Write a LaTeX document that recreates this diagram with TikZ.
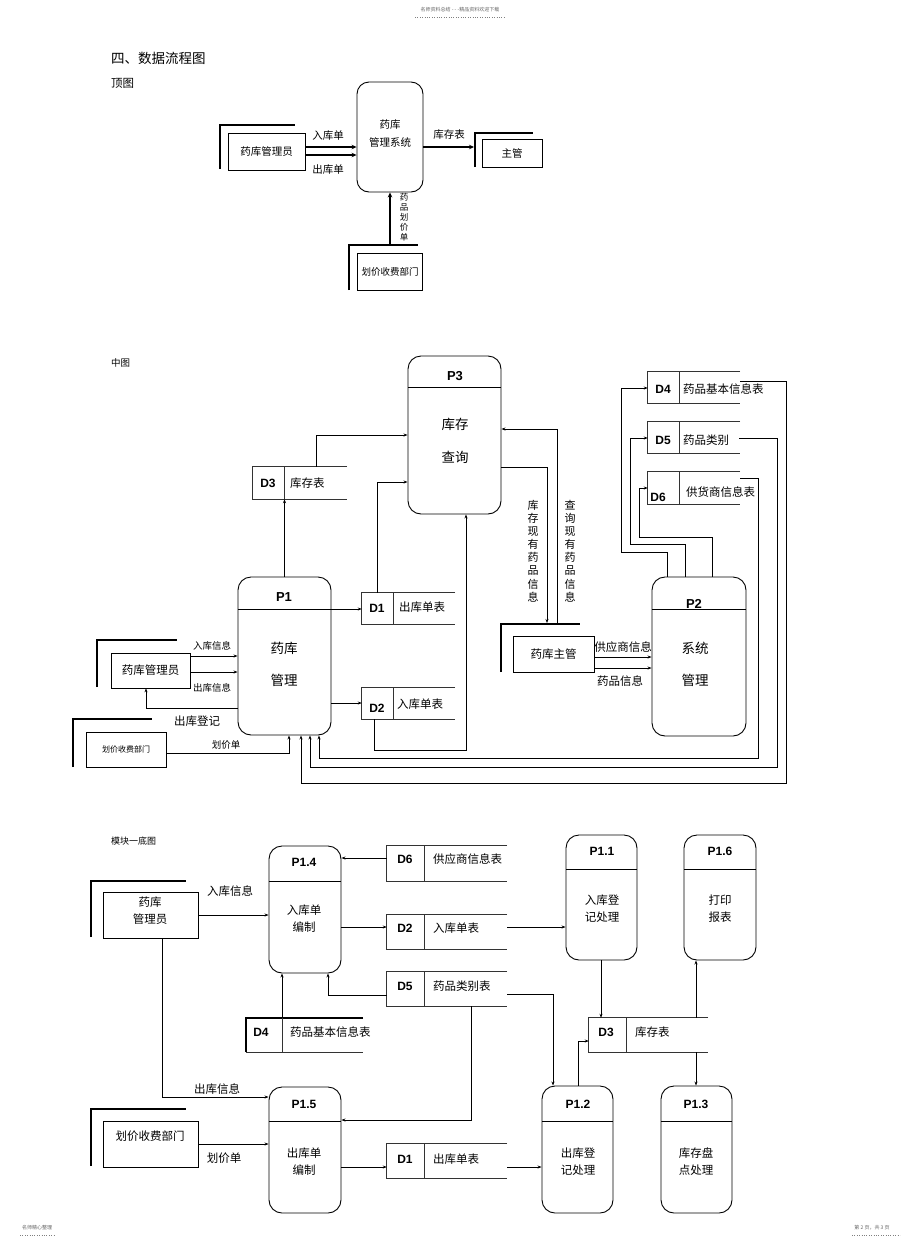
\documentclass[tikz,border=0pt]{standalone}
\usepackage{fontspec}
\setmainfont{Noto Sans CJK SC}
\newfontfamily\lat{Liberation Sans}
\usetikzlibrary{arrows.meta,fit}
\tikzset{
  every node/.style={inner sep=0pt, font=\fontsize{11.5}{17}\selectfont},
  proc/.style={draw, rounded corners=13pt, line width=0.9pt, inner sep=0pt},
  sfit/.style={inner sep=0pt},
  extbox/.style={draw, line width=0.7pt, inner sep=0pt},
  thickl/.style={line width=2.4pt},
  sline/.style={line width=0.7pt, black!80},
  arr/.style={-{Stealth[length=4pt,width=3pt]}, line width=0.7pt},
  tarr/.style={-{Stealth[length=5pt,width=4.5pt]}, line width=2pt},
  plab/.style={font=\lat\bfseries\fontsize{13}{13}\selectfont},
  dlab/.style={font=\lat\bfseries\fontsize{12}{12}\selectfont},
  small/.style={font=\fontsize{9.5}{12}\selectfont},
  tiny/.style={font=\fontsize{5}{6}\selectfont, text=black!60},
}
\begin{document}
\begin{tikzpicture}[x=1pt,y=-1pt]
\useasboundingbox (0,0) rectangle (920,1245);
\fill[white] (0,0) rectangle (920,1245);

% header / footer
\node[tiny] (hdr) at (460,10) {名师资料总结 - - -精品资料欢迎下载};
\draw[black!50, dotted] (415,17) -- (505,17);
\node[tiny] (ftl) at (37,1228) {名师精心整理};
\draw[black!50, dotted] (20,1235) -- (55,1235);
\node[tiny] (ftr) at (872,1228) {第 2 页，共 3 页};
\draw[black!50, dotted] (852,1235) -- (900,1235);

% ================= top =================
\node[anchor=west, font=\fontsize{13.5}{14}\selectfont] (title) at (111,58) {四、数据流程图};
\node[anchor=west, font=\fontsize{11.5}{12}\selectfont] (dingtu) at (111,83) {顶图};

\node[proc, rounded corners=12pt, fit={(357,82)(423,192)}] (sys) {};
\node[align=center, font=\fontsize{10.5}{18}\selectfont] (systxt) at (390,134) {药库\\管理系统};

\node[extbox, fit={(228,133)(305,170)}] (adm0) {};
\draw[thickl] (220,169) -- (220,125) -- (295,125);
\node[font=\fontsize{10.5}{12}\selectfont] at (adm0.center) {药库管理员};
\draw[tarr] (adm0.east |- 0,147) -- (sys.west |- 0,147);
\draw[tarr] (adm0.east |- 0,155) -- (sys.west |- 0,155);
\node[font=\fontsize{10.5}{12}\selectfont] (l1) at (328,136) {入库单};
\node[font=\fontsize{10.5}{12}\selectfont] (l2) at (328,170) {出库单};

\node[extbox, fit={(482,139)(542,167)}] (zg0) {};
\draw[thickl] (475,167) -- (475,133) -- (533,133);
\node[font=\fontsize{10.5}{12}\selectfont] at (zg0.center) {主管};
\coordinate (zgin) at (474,147);
\draw[tarr] (sys.east |- 0,147) -- (zgin);
\node[font=\fontsize{10.5}{12}\selectfont] (l3) at (449,135) {库存表};

\node[extbox, fit={(357,253)(422,290)}] (hj0) {};
\draw[thickl] (349,290) -- (349,245) -- (418,245);
\node[font=\fontsize{9.5}{12}\selectfont] at (390,272) {划价收费部门};
\coordinate (hj0top) at (390,245);
\draw[tarr] (hj0top) -- (sys.south);
\node[align=center, font=\fontsize{8.5}{10}\selectfont] (l4) at (404,217) {药\\品\\划\\价\\单};

% ================= middle =================
\node[anchor=west, small] (zt) at (111,363) {中图};

% P3
\node[proc, fit={(408,356)(501,514)}] (p3) {};
\draw[line width=0.9pt] (408,387) -- (501,387);
\node[plab] at (455,376) {P3};
\node[font=\fontsize{13.5}{14}\selectfont] at (455,424) {库存};
\node[font=\fontsize{13.5}{14}\selectfont] at (455,457) {查询};

% P1
\node[proc, fit={(238,577)(331,735)}] (p1) {};
\draw[line width=0.9pt] (238,609) -- (331,609);
\node[plab] at (284,597) {P1};
\node[font=\fontsize{13.5}{14}\selectfont] at (284,648) {药库};
\node[font=\fontsize{13.5}{14}\selectfont] at (284,680) {管理};

% P2
\node[proc, fit={(652,577)(746,736)}] (p2) {};
\draw[line width=0.9pt] (652,609) -- (746,609);
\node[plab] at (694,604) {P2};
\node[font=\fontsize{13.5}{14}\selectfont] at (695,648) {系统};
\node[font=\fontsize{13.5}{14}\selectfont] at (695,680) {管理};

% D3 mid
\node[sfit, fit={(253,467)(347,499)}] (d3) {};
\draw[sline] (d3.north east) -- (d3.north west) -- (d3.south west) -- (d3.south east);
\draw[sline] (284,467) -- (284,499);
\node[dlab] at (268,483) {D3};
\node[anchor=west] at (290,483) {库存表};

% D1 mid
\node[sfit, fit={(362,593)(455,624)}] (d1) {};
\draw[sline] (d1.north east) -- (d1.north west) -- (d1.south west) -- (d1.south east);
\draw[sline] (393,593) -- (393,624);
\node[dlab] at (377,608) {D1};
\node[anchor=west] at (399,607) {出库单表};

% D2 mid
\node[sfit, fit={(362,688)(455,719)}] (d2) {};
\draw[sline] (d2.north east) -- (d2.north west) -- (d2.south west) -- (d2.south east);
\draw[sline] (393,688) -- (393,719);
\node[dlab] at (377,708) {D2};
\node[anchor=west] at (397,704) {入库单表};

% D4 D5 D6 mid
\node[sfit, fit={(648,372)(740,403)}] (d4) {};
\draw[sline] (d4.north east) -- (d4.north west) -- (d4.south west) -- (d4.south east);
\draw[sline] (679,372) -- (679,403);
\node[dlab] at (663,389) {D4};
\node[anchor=west] at (683,389) {药品基本信息表};

\node[sfit, fit={(648,422)(740,453)}] (d5) {};
\draw[sline] (d5.north east) -- (d5.north west) -- (d5.south west) -- (d5.south east);
\draw[sline] (679,422) -- (679,453);
\node[dlab] at (663,440) {D5};
\node[anchor=west] at (683,440) {药品类别};

\node[sfit, fit={(648,472)(740,504)}] (d6) {};
\draw[sline] (d6.north east) -- (d6.north west) -- (d6.south west) -- (d6.south east);
\draw[sline] (679,472) -- (679,504);
\node[dlab] at (658,497) {D6};
\node[anchor=west] at (686,492) {供货商信息表};

% externals mid
\node[extbox, fit={(111,653)(190,688)}] (adm1) {};
\draw[thickl] (97,687) -- (97,640) -- (177,640);
\node at (adm1.center) {药库管理员};

\node[extbox, fit={(86,732)(166,767)}] (hj1) {};
\draw[thickl] (73,767) -- (73,719) -- (152,719);
\node[font=\fontsize{8}{10}\selectfont] at (hj1.center) {划价收费部门};

\node[extbox, fit={(513,636)(594,672)}] (zg1) {};
\draw[thickl] (501,672) -- (501,624) -- (580,624);
\node at (zg1.center) {药库主管};

% mid connectors
\draw[arr] (p1.north) -- (p1.north |- d3.south);
\draw[arr] (d3.north -| 316,0) -- (316,435) -- (p3.west |- 0,435);
\draw[arr] (d1.north -| 377,0) -- (377,482) -- (p3.west |- 0,482);
\draw[arr] (d2.south -| 374,0) -- (374,750) -- (466,750) -- (p3.south -| 466,0);
\draw[arr] (p1.east |- 0,609) -- (d1.west |- 0,609);
\draw[arr] (p1.east |- 0,703) -- (d2.west |- 0,703);

\draw[arr] (adm1.east |- 0,656) -- (p1.west |- 0,656);
\draw[arr] (adm1.east |- 0,672) -- (p1.west |- 0,672);
\node[small] at (212,646) {入库信息};
\node[small] at (212,688) {出库信息};
\draw[arr] (p1.west |- 0,708) -- (146,708) -- (adm1.south -| 146,0);
\node at (197,721) {出库登记};

\draw[arr] (hj1.east |- 0,753) -- (289,753) -- (p1.south -| 289,0);
\node[small] at (226,745) {划价单};

\draw[arr] (d4.north east |- 0,381) -- (786,381) -- (786,783) -- (301,783) -- (p1.south -| 301,0);
\draw[arr] (739,438) -- (777,438) -- (777,767) -- (310,767) -- (p1.south -| 310,0);
\draw[arr] (d6.east |- 0,478) -- (758,478) -- (758,758) -- (319,758) -- (p1.south -| 319,0);

\draw[arr] (p2.north -| 667,0) -- (667,552) -- (621,552) -- (621,388) -- (d4.west |- 0,388);
\draw[arr] (p2.north -| 685,0) -- (685,544) -- (630,544) -- (630,438) -- (d5.west |- 0,438);
\draw[arr] (p2.north -| 712,0) -- (712,537) -- (639,537) -- (639,488) -- (d6.west |- 0,488);

\coordinate (zgtopA) at (547,623);
\coordinate (zgtopB) at (557,624);
\draw[arr] (p3.east |- 0,467) -- (547,467) -- (zgtopA);
\draw[arr] (zgtopB) -- (557,429) -- (p3.east |- 0,429);
\node[align=center, font=\fontsize{11}{13.1}\selectfont] at (533,551) {库\\存\\现\\有\\药\\品\\信\\息};
\node[align=center, font=\fontsize{11}{13.1}\selectfont] at (570,551) {查\\询\\现\\有\\药\\品\\信\\息};

\draw[arr] (zg1.east |- 0,657) -- (p2.west |- 0,657);
\draw[arr] (zg1.east |- 0,668) -- (p2.west |- 0,668);
\node at (623,647) {供应商信息};
\node at (620,681) {药品信息};

% ================= bottom =================
\node[anchor=west, font=\fontsize{9}{10}\selectfont] (mk) at (111,841) {模块一底图};

% processes
\node[proc, fit={(269,846)(341,973)}] (p14) {};
\draw[line width=0.9pt] (269,881) -- (341,881);
\node[dlab] at (304,862) {P1.4};
\node[align=center] at (304,919) {入库单\\编制};

\node[proc, fit={(269,1087)(341,1213)}] (p15) {};
\draw[line width=0.9pt] (269,1121) -- (341,1121);
\node[dlab] at (304,1104) {P1.5};
\node[align=center] at (304,1162) {出库单\\编制};

\node[proc, fit={(566,835)(637,960)}] (p11) {};
\draw[line width=0.9pt] (566,869) -- (637,869);
\node[dlab] at (602,851) {P1.1};
\node[align=center] at (602,909) {入库登\\记处理};

\node[proc, fit={(684,835)(756,960)}] (p16) {};
\draw[line width=0.9pt] (684,869) -- (756,869);
\node[dlab] at (720,851) {P1.6};
\node[align=center] at (720,909) {打印\\报表};

\node[proc, fit={(542,1086)(613,1213)}] (p12) {};
\draw[line width=0.9pt] (542,1121) -- (613,1121);
\node[dlab] at (578,1104) {P1.2};
\node[align=center] at (578,1162) {出库登\\记处理};

\node[proc, fit={(661,1086)(732,1213)}] (p13) {};
\draw[line width=0.9pt] (661,1121) -- (732,1121);
\node[dlab] at (696,1104) {P1.3};
\node[align=center] at (696,1162) {库存盘\\点处理};

% stores bottom
\node[sfit, fit={(387,846)(507,881)}] (d6b) {};
\draw[sline] (d6b.north east) -- (d6b.north west) -- (d6b.south west) -- (d6b.south east);
\draw[sline] (424,846) -- (424,881);
\node[dlab] at (405,859) {D6};
\node[anchor=west] at (433,859) {供应商信息表};

\node[sfit, fit={(387,915)(507,949)}] (d2b) {};
\draw[sline] (d2b.north east) -- (d2b.north west) -- (d2b.south west) -- (d2b.south east);
\draw[sline] (424,915) -- (424,949);
\node[dlab] at (405,928) {D2};
\node[anchor=west] at (433,928) {入库单表};

\node[sfit, fit={(387,972)(507,1006)}] (d5b) {};
\draw[sline] (d5b.north east) -- (d5b.north west) -- (d5b.south west) -- (d5b.south east);
\draw[sline] (424,972) -- (424,1006);
\node[dlab] at (405,986) {D5};
\node[anchor=west] at (433,986) {药品类别表};

\node[sfit, fit={(246,1018)(363,1052)}] (d4b) {};
\draw[line width=1.5pt] (d4b.north east) -- (d4b.north west) -- (d4b.south west);
\draw[sline] (d4b.south west) -- (d4b.south east);
\draw[sline] (282,1018) -- (282,1052);
\node[dlab] at (261,1032) {D4};
\node[anchor=west] at (290,1032) {药品基本信息表};

\node[sfit, fit={(387,1144)(507,1178)}] (d1b) {};
\draw[sline] (d1b.north east) -- (d1b.north west) -- (d1b.south west) -- (d1b.south east);
\draw[sline] (424,1144) -- (424,1178);
\node[dlab] at (405,1159) {D1};
\node[anchor=west] at (433,1159) {出库单表};

\node[sfit, fit={(589,1018)(708,1052)}] (d3b) {};
\draw[sline] (d3b.north east) -- (d3b.north west) -- (d3b.south west) -- (d3b.south east);
\draw[sline] (626,1018) -- (626,1052);
\node[dlab] at (606,1032) {D3};
\node[anchor=west] at (635,1032) {库存表};

% externals bottom
\node[extbox, fit={(103,892)(198,938)}] (adm2) {};
\draw[thickl] (91,937) -- (91,881) -- (186,881);
\node[align=center] at (150,911) {药库\\管理员};

\node[extbox, fit={(103,1121)(198,1167)}] (hj2) {};
\draw[thickl] (91,1166) -- (91,1109) -- (186,1109);
\node at (150,1136) {划价收费部门};

% bottom connectors
\draw[arr] (d6b.west |- 0,858) -- (p14.east |- 0,858);
\draw[arr] (adm2.east |- 0,915) -- (p14.west |- 0,915);
\node at (230,891) {入库信息};
\draw[arr] (p14.east |- 0,927) -- (d2b.west |- 0,927);
\draw[arr] (d2b.east |- 0,927) -- (p11.west |- 0,927);
\draw[arr] (d5b.west |- 0,995) -- (328,995) -- (p14.south -| 328,0);
\draw[arr] (d4b.north -| 282,0) -- (p14.south -| 282,0);
\draw[arr] (d5b.east |- 0,994) -- (553,994) -- (p12.north -| 553,0);
\draw[arr] (d5b.south -| 471,0) -- (471,1120) -- (p15.east |- 0,1120);
\draw[arr] (adm2.south -| 162,0) -- (162,1097) -- (p15.west |- 0,1097);
\node at (217,1089) {出库信息};
\draw[arr] (hj2.east |- 0,1144) -- (p15.west |- 0,1144);
\node at (224,1158) {划价单};
\draw[arr] (p15.east |- 0,1167) -- (d1b.west |- 0,1167);
\draw[arr] (d1b.east |- 0,1167) -- (p12.west |- 0,1167);
\draw[arr] (p11.south -| 601,0) -- (d3b.north -| 601,0);
\draw[arr] (d3b.north -| 696,0) -- (p16.south -| 696,0);
\draw[arr] (d3b.south -| 696,0) -- (p13.north -| 696,0);
\draw[arr] (p12.north -| 578,0) -- (578,1041) -- (d3b.west |- 0,1041);
\end{tikzpicture}
\end{document}
